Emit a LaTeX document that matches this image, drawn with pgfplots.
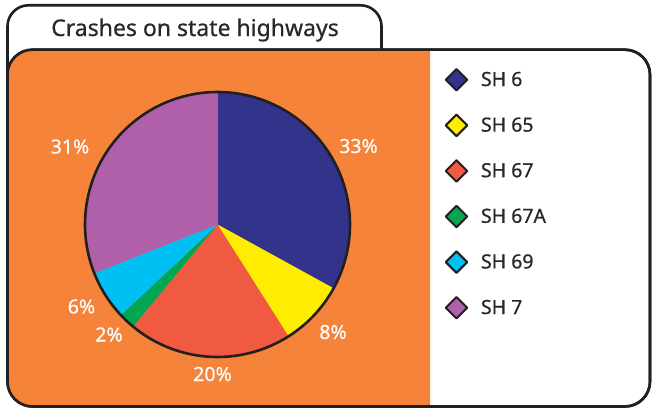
\documentclass[border=0pt]{standalone}
\usepackage{pgfplots}
\pgfplotsset{compat=1.18}
\usepackage{pgfplotstable}
\usepackage{fontspec}
\setmainfont{Noto Sans}
\newfontfamily\medfont{Noto Sans}[FakeBold=0.6]
\newfontfamily\lblfont{Noto Sans}[FakeBold=0.3]

\definecolor{bgorange}{RGB}{245,132,58}
\definecolor{linecol}{RGB}{35,31,32}
\definecolor{textgray}{RGB}{40,40,42}
\definecolor{slice0}{RGB}{50,51,138}
\definecolor{slice1}{RGB}{255,237,0}
\definecolor{slice2}{RGB}{240,90,64}
\definecolor{slice3}{RGB}{0,166,81}
\definecolor{slice4}{RGB}{0,191,243}
\definecolor{slice5}{RGB}{176,96,168}

\tikzset{pctlabel/.style={text=white, font=\lblfont\fontsize{19.5bp}{19.5bp}\selectfont, anchor=base, inner sep=0pt}}

% share of crashes (%) and label positions (x, baseline y)
\pgfplotstableread{
id pct lx ly
0 33 358.5 257
1 8 333 71
2 20 212.5 29
3 2 109 68.5
4 6 81.5 96.5
5 31 70 256.5
}\crashdata

\begin{document}
\begin{tikzpicture}
\begin{axis}[
  name=ax,
  width=652bp, height=410bp, scale only axis,
  xmin=0, xmax=652, ymin=0, ymax=410,
  hide axis, clip=false,
  legend cell align=left,
  legend image code/.code={%
    \path[draw=none, fill=none] (0bp,0bp) rectangle (35bp,0bp);
    \draw[#1, overlay] plot coordinates {(10.5bp,1.5bp)};},
  legend style={at={(axis cs:446,338)}, anchor=north west, draw=none, fill=none,
    inner sep=0pt, outer sep=0pt,
    font=\medfont\fontsize{19.5bp}{19.5bp}\selectfont, text=textgray,
    nodes={text height=14bp, text depth=4.5bp, inner sep=0pt},
    row sep=27.1bp, column sep=0pt},
  diam/.style={only marks, mark=square*, mark size=7.6bp,
    mark options={rotate=45, fill=#1, draw=linecol, line width=2bp, line join=round}},
]
% title tab
\draw[line width=2.6bp, draw=linecol, fill=white, rounded corners=21bp]
  (axis cs:7.5,330) -- (axis cs:7.5,404.7) -- (axis cs:381.5,404.7) -- (axis cs:381.5,340);
\node[text=textgray, font=\medfont\fontsize{23bp}{23bp}\selectfont, anchor=base, inner sep=0pt]
  at (axis cs:195,374) {Crashes on state highways};
% main panel
\draw[line width=2.6bp, draw=linecol, fill=white, rounded corners=25bp]
  (axis cs:7.5,3.5) rectangle (axis cs:650,360.3);
\fill[bgorange] (axis cs:430,360.3) [rounded corners=26bp] -- (axis cs:7.5,360.3) -- (axis cs:7.5,3.5) [sharp corners] -- (axis cs:430,3.5) -- cycle;
\draw[line width=2.6bp, draw=linecol, rounded corners=25bp]
  (axis cs:7.5,3.5) rectangle (axis cs:650,360.3);

% pie slices, clockwise from 12 o'clock
\pgfmathsetmacro{\startang}{90}
\pgfplotsforeachungrouped \i in {0,...,5}{%
  \pgfplotstablegetelem{\i}{pct}\of\crashdata
  \let\pctval\pgfplotsretval
  \pgfplotstablegetelem{\i}{lx}\of\crashdata
  \let\lx\pgfplotsretval
  \pgfplotstablegetelem{\i}{ly}\of\crashdata
  \let\ly\pgfplotsretval
  \pgfmathsetmacro{\endang}{\startang-3.6*\pctval}
  \edef\temp{%
    \noexpand\addplot[forget plot, fill=slice\i, draw=none, domain=\endang:\startang, samples=60, variable=\noexpand\t]
      ({217.5+132.5*cos(\noexpand\t)},{185.5+132.5*sin(\noexpand\t)}) -- (axis cs:217.5,185.5) -- cycle;
    \noexpand\node[pctlabel] at (axis cs:\lx,\ly) {\pctval\noexpand\%};
  }%
  \temp
  \let\startang\endang
}
\addplot[forget plot, draw=linecol, line width=2.6bp, domain=0:360, samples=181, variable=\t]
  ({217.5+132.5*cos(\t)},{185.5+132.5*sin(\t)});

% legend
\addlegendimage{diam=slice0}
\addlegendentry{SH 6}
\addlegendimage{diam=slice1}
\addlegendentry{SH 65}
\addlegendimage{diam=slice2}
\addlegendentry{SH 67}
\addlegendimage{diam=slice3}
\addlegendentry{SH 67A}
\addlegendimage{diam=slice4}
\addlegendentry{SH 69}
\addlegendimage{diam=slice5}
\addlegendentry{SH 7}
\end{axis}
\pgfresetboundingbox
\useasboundingbox (ax.south west) rectangle (ax.north east);
\end{tikzpicture}
\end{document}
